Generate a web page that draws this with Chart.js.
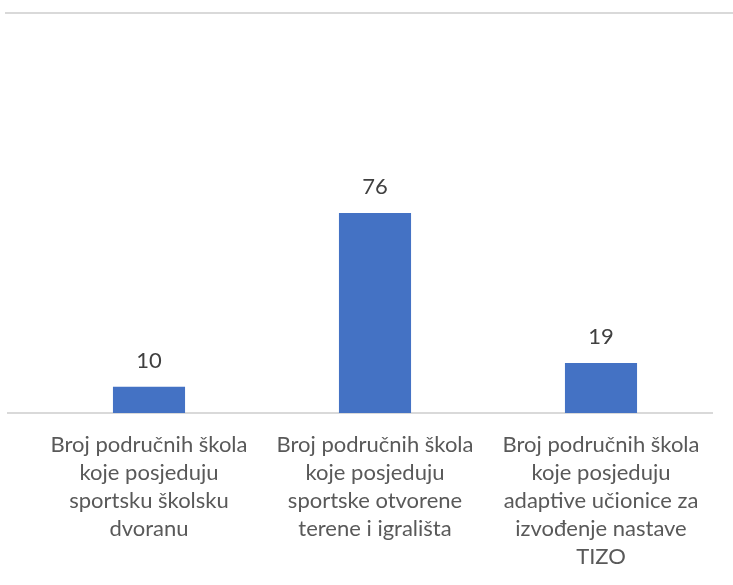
<!DOCTYPE html>
<html>
<head>
<meta charset="utf-8">
<script src="https://cdn.jsdelivr.net/npm/chart.js@4/dist/chart.umd.min.js"></script>
<style>
  html, body { margin: 0; padding: 0; background: #fff; }
  #wrap { width: 733px; height: 585px; position: relative; }
</style>
</head>
<body>
<div id="wrap"><canvas id="schoolChart"></canvas></div>
<script>
// Categories (wrapped into lines as in the original)
const categories = [
    ['Broj područnih škola', 'koje posjeduju', 'sportsku školsku', 'dvoranu'],
    ['Broj područnih škola', 'koje posjeduju', 'sportske otvorene', 'terene i igrališta'],
    ['Broj područnih škola', 'koje posjeduju', 'adaptive učionice za', 'izvođenje nastave', 'TIZO']
];
const schoolCounts = [10, 76, 19];
const axisMax = 152;

// Gray frame lines: top line at the axis maximum, base line at zero
const frameLines = {
    id: 'frameLines',
    beforeDatasetsDraw(chart) {
        const { ctx, chartArea, scales } = chart;
        const yTop = scales.y.getPixelForValue(axisMax);
        const yBase = scales.y.getPixelForValue(0);
        ctx.save();
        ctx.strokeStyle = '#d9d9d9';
        ctx.lineWidth = 2;
        ctx.beginPath();
        ctx.moveTo(5, yTop);
        ctx.lineTo(chart.width, yTop);
        ctx.moveTo(chartArea.left - 29, yBase);
        ctx.lineTo(chartArea.right - 1, yBase);
        ctx.stroke();
        ctx.restore();
    }
};

// Value labels above each bar
const valueLabels = {
    id: 'valueLabels',
    afterDatasetsDraw(chart) {
        const { ctx } = chart;
        const meta = chart.getDatasetMeta(0);
        ctx.save();
        ctx.font = '22px Lato, "Open Sans", sans-serif';
        ctx.fillStyle = '#404040';
        ctx.textAlign = 'center';
        ctx.textBaseline = 'bottom';
        meta.data.forEach((bar, i) => {
            ctx.fillText(String(schoolCounts[i]), bar.x, bar.y - 15);
        });
        ctx.restore();
    }
};

new Chart(document.getElementById('schoolChart'), {
    type: 'bar',
    data: {
        labels: categories,
        datasets: [{
            data: schoolCounts,
            backgroundColor: '#4472c4',
            borderWidth: 0,
            categoryPercentage: 1,
            barPercentage: 0.319
        }]
    },
    options: {
        responsive: true,
        maintainAspectRatio: false,
        animation: false,
        layout: {
            padding: { left: 36, right: 19, top: 13, bottom: 4 }
        },
        plugins: {
            legend: { display: false },
            title: { display: false },
            tooltip: { enabled: false }
        },
        scales: {
            y: {
                display: false,
                min: 0,
                max: axisMax
            },
            x: {
                grid: { display: false },
                border: { display: false },
                ticks: {
                    autoSkip: false,
                    maxRotation: 0,
                    padding: 10,
                    color: '#595959',
                    font: { family: 'Lato, "Open Sans", sans-serif', size: 22, lineHeight: 1.273 }
                }
            }
        }
    },
    plugins: [frameLines, valueLabels]
});
</script>
</body>
</html>
